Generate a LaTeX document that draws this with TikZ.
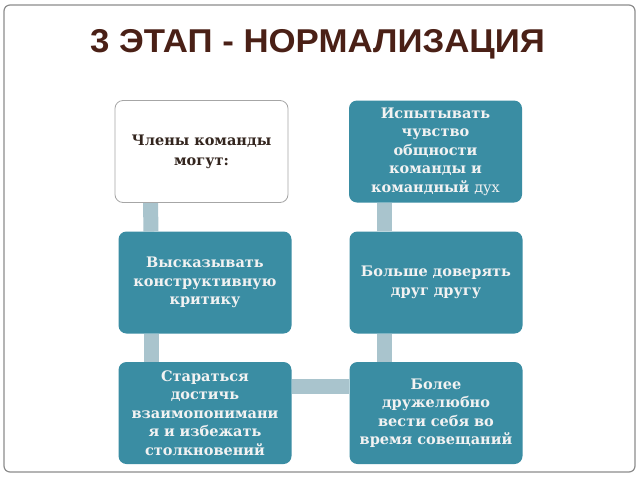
\documentclass[tikz,border=0pt]{standalone}
\usepackage{fontspec}
\setmainfont{DejaVu Serif}
\newfontfamily\titlefont{Liberation Sans}
\usetikzlibrary{backgrounds}
\definecolor{teal}{HTML}{3A8DA3}
\definecolor{barc}{HTML}{A9C4CD}
\definecolor{titlec}{HTML}{4A2016}
\definecolor{darktext}{HTML}{33251E}
\tikzset{
  box/.style={rounded corners=8pt, minimum width=173pt, minimum height=102pt,
    text width=165pt, align=center, inner sep=0pt,
    font=\fontsize{14.5}{18.5}\selectfont\bfseries},
  tealbox/.style={box, fill=teal, text=white!95!black},
  whitebox/.style={box, draw=black!35, fill=white, line width=0.8pt, text=darktext,
    font=\fontsize{14.5}{20}\selectfont\bfseries},
  bar/.style={draw=barc, line width=15pt},
}
\begin{document}
\begin{tikzpicture}[x=1pt,y=-1pt]
\useasboundingbox (0,0) rectangle (640,480);
\node[font=\titlefont\fontsize{33}{36}\selectfont\bfseries, text=titlec, xscale=1.055] (title) at (317.5,44) {3 ЭТАП - НОРМАЛИЗАЦИЯ};
\node[whitebox] (b1) at (201.5,151.5) {Члены команды\\могут:};
\node[tealbox] (b2) at (205,282.5) {Высказывать\\конструктивную\\критику};
\node[tealbox] (b3) at (205,413) {Стараться\\достичь\\взаимопонимани\\я и избежать\\столкновений};
\node[tealbox] (b4) at (436,413) {Более\\дружелюбно\\вести себя во\\время совещаний};
\node[tealbox] (b5) at (436,282.5) {Больше доверять\\друг другу};
\node[tealbox] (b6) at (435.5,151.5) {Испытывать\\чувство\\общности\\команды и\\командный \mdseries дух};
\begin{scope}[on background layer]
  \draw[black!45, line width=1.2pt, rounded corners=6pt, fill=white] (4,5) rectangle (635,472);
  \draw[bar] ([xshift=-51pt]b1.south) -- ([xshift=-54pt]b2.north);
  \draw[bar] ([xshift=-54pt]b2.south) -- ([xshift=-54pt]b3.north);
  \draw[bar] ([yshift=26.5pt]b3.east) -- ([yshift=26.5pt]b4.west);
  \draw[bar] ([xshift=-52pt]b4.north) -- ([xshift=-52pt]b5.south);
  \draw[bar] ([xshift=-52pt]b5.north) -- ([xshift=-51.5pt]b6.south);
\end{scope}
\end{tikzpicture}
\end{document}
